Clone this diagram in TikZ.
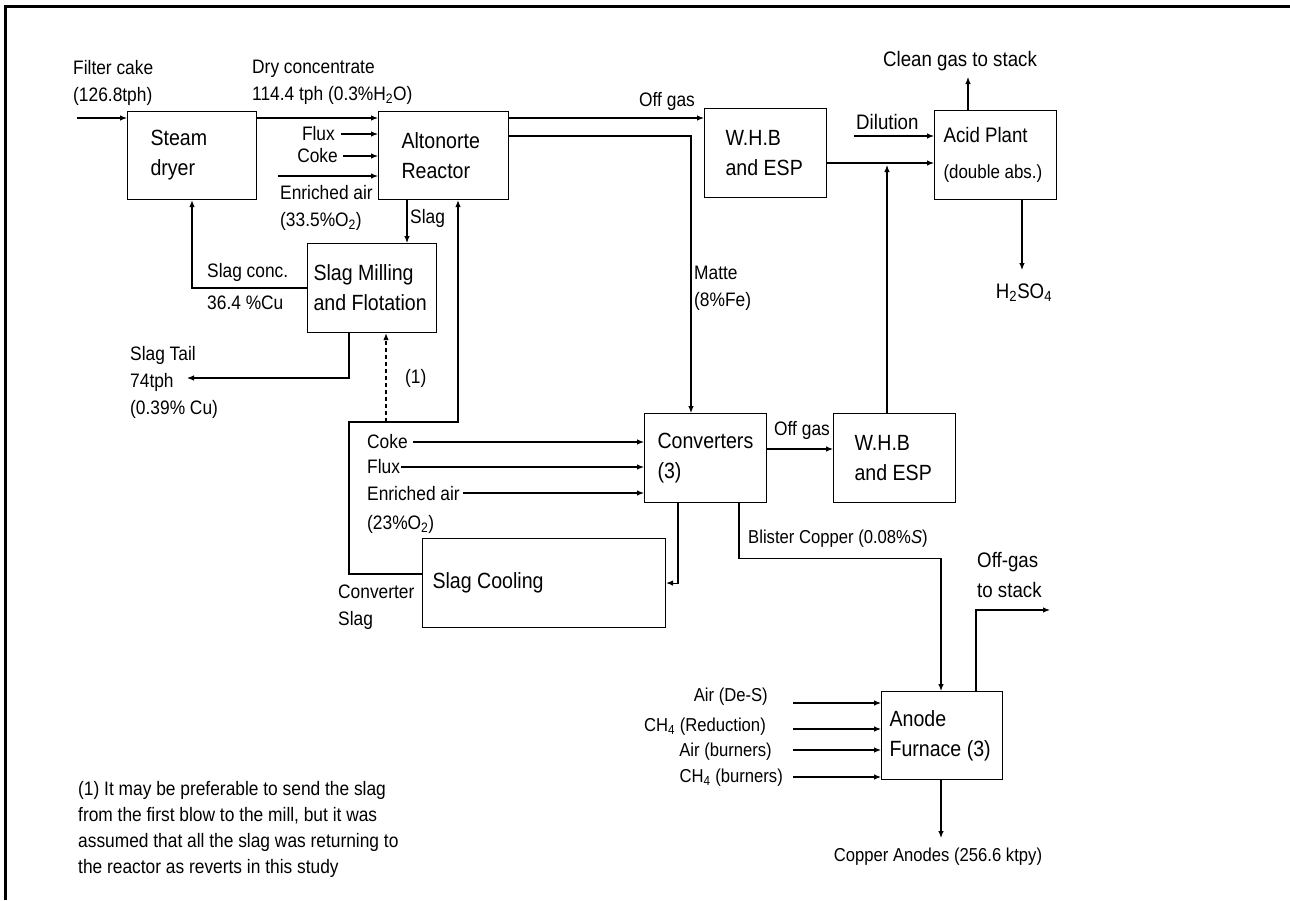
\documentclass[tikz,border=0pt]{standalone}
\usepackage{fontspec}
\setmainfont[FakeStretch=0.89]{Liberation Sans}
\usetikzlibrary{arrows.meta}

\begin{document}
\begin{tikzpicture}[x=1pt, y=-1pt,
	unit/.style={draw, line width=1.1pt, anchor=north west, align=flush left, font=\fontsize{22}{30}\selectfont},
	lbl/.style={inner sep=0pt, align=flush left, font=\fontsize{19.5}{27}\selectfont},
	biglbl/.style={lbl, font=\fontsize{21}{30}\selectfont},
	smalllbl/.style={lbl, font=\fontsize{18.7}{27}\selectfont},
	flow/.style={line width=1.1pt, -{Latex[length=7pt,width=5.5pt]}}]
	\useasboundingbox (0,0) rectangle (1290,900);
	\draw[line width=3pt] (5,900) -- (5,6.5) -- (1290,6.5);

	% process units
	\node[unit, minimum width=129pt, minimum height=88pt, text width=83pt, inner xsep=23pt] (dryer) at (127,111) {Steam\\dryer};
	\node[unit, minimum width=130pt, minimum height=88pt, text width=84pt, inner xsep=23pt] (reactor) at (378,111) {Altonorte\\Reactor};
	\node[unit, minimum width=129pt, minimum height=89pt, text width=117pt, inner xsep=6pt] (mill) at (307,243) {Slag Milling\\and Flotation};
	\node[unit, minimum width=122pt, minimum height=89pt, text width=80pt, inner xsep=21pt] (whb1) at (704,108) {W.H.B\\and ESP};
	\node[unit, minimum width=122pt, minimum height=89pt, text width=104pt, inner xsep=9pt, font=\fontsize{21}{30}\selectfont] (acid) at (934,110) {Acid Plant\\[6pt]{\fontsize{19}{30}\selectfont(double abs.)}};
	\node[unit, minimum width=122pt, minimum height=89pt, text width=96pt, inner xsep=13pt] (conv) at (644,413) {Converters\\(3)};
	\node[unit, minimum width=122pt, minimum height=89pt, text width=80pt, inner xsep=21pt] (whb2) at (833,413) {W.H.B\\and ESP};
	\node[unit, minimum width=243pt, minimum height=89pt, text width=223pt, inner xsep=10pt] (cool) at (422,538) {Slag Cooling};
	\node[unit, minimum width=121pt, minimum height=88pt, text width=105pt, inner xsep=8pt] (anode) at (881,691) {Anode\\Furnace (3)};

	% stream labels
	\node[lbl, anchor=north west] (feedlbl) at (73,60) {Filter cake\\(126.8tph)};
	\node[lbl, anchor=north west] (drylbl) at (252,60) {Dry concentrate\\114.4 tph (0.3\%H\textsubscript{2}O)};
	\node[lbl, anchor=east] (flux1) at (335,134) {Flux};
	\node[lbl, anchor=east] (coke1) at (338,156) {Coke};
	\node[lbl, anchor=north west] (air1) at (280,185) {Enriched air\\(33.5\%O\textsubscript{2})};
	\node[lbl, anchor=west] (slaglbl) at (410,218) {Slag};
	\node[lbl, anchor=west] (conclbl) at (207,272) {Slag conc.};
	\node[lbl, anchor=west] (cu) at (207,303) {36.4 \%Cu};
	\node[lbl, anchor=west] (off1) at (639,101) {Off gas};
	\node[lbl, anchor=north west] (matte) at (694,266) {Matte\\(8\%Fe)};
	\node[biglbl, anchor=west] (dillbl) at (856,122) {Dilution};
	\node[biglbl] (clean) at (960,61) {Clean gas to stack};
	\node[biglbl] (acidout) at (1024,293) {H\textsubscript{2}SO\textsubscript{4}};
	\node[lbl, anchor=north west] (tail) at (130,346) {Slag Tail\\74tph\\(0.39\% Cu)};
	\node[lbl, anchor=west] (note1) at (405,378) {(1)};
	\node[lbl, anchor=west] (coke2) at (367,442) {Coke};
	\node[lbl, anchor=west] (flux2) at (367,467) {Flux};
	\node[lbl, anchor=north west] (air2) at (367,486) {Enriched air\\[2pt](23\%O\textsubscript{2})};
	\node[lbl, anchor=north west] (cslag) at (338,585) {Converter\\Slag};
	\node[lbl, anchor=west] (off2) at (774,430) {Off gas};
	\node[smalllbl, anchor=west] (blister) at (748,539) {Blister Copper (0.08\%\textit{S})};
	\node[biglbl, anchor=north west] (stack) at (977,552) {Off-gas\\to stack};
	\node[smalllbl, anchor=east] (desl) at (768,697) {Air (De-S)};
	\node[smalllbl, anchor=east] (redl) at (766,727) {CH\textsubscript{4} (Reduction)};
	\node[smalllbl, anchor=east] (burl) at (772,752) {Air (burners)};
	\node[smalllbl, anchor=east] (chbl) at (783,778) {CH\textsubscript{4} (burners)};
	\node[smalllbl] (prod) at (938,857) {Copper Anodes (256.6 ktpy)};
	\node[lbl, anchor=north west, font=\fontsize{19.5}{26}\selectfont] (foot) at (78,781) {(1) It may be preferable to send the slag\\from the first blow to the mill, but it was\\assumed that all the slag was returning to\\the reactor as reverts in this study};

	% free ends
	\coordinate (feed) at (77,118);
	\coordinate (air1in) at (278,176);
	\coordinate (dil) at (854,136);
	\coordinate (cleanend) at (968,77);
	\coordinate (acidend) at (1022,270);
	\coordinate (tailend) at (187,378);
	\coordinate (loop) at (349,422);
	\coordinate (dash) at (386,422);
	\coordinate (air2in) at (463,493);
	\coordinate (stackend) at (1050,610);
	\coordinate (prodend) at (941,838);

	% smelter streams
	\draw[flow] (feed) -- (feed -| dryer.west);
	\draw[flow] ([yshift=-7pt]dryer.north east) -- ([yshift=-7pt]reactor.north west);
	\draw[flow] ([xshift=6pt]flux1.east) -- (flux1.east -| reactor.west);
	\draw[flow] ([xshift=5pt]coke1.east) -- (coke1.east -| reactor.west);
	\draw[flow] (air1in) -- (air1in -| reactor.west);
	\draw[flow] ([xshift=29pt]reactor.south west) -- ([xshift=29pt]reactor.south west |- mill.north);
	\draw[flow] ([yshift=-45pt]mill.north west) -| ([xshift=65pt]dryer.south west);
	\draw[flow] ([xshift=42pt]mill.south west) |- (tailend);
	\draw[flow, dash pattern=on 4pt off 3pt] (dash) -- (dash |- mill.south);
	\draw[flow] ([yshift=-36pt]cool.north west) -| (loop) -| ([xshift=80pt]reactor.south west);

	% gas line
	\draw[flow] ([yshift=-7pt]reactor.north east) -- ([yshift=-7pt]reactor.north east -| whb1.west);
	\coordinate (w1out) at ([yshift=-55pt]whb1.north east);
	\draw[flow] (w1out) -- (w1out -| acid.west);
	\draw[flow] (dil) -- (dil -| acid.west);
	\draw[flow, shorten >=2pt] ([xshift=54pt]whb2.north west) -- ([xshift=54pt]whb2.north west |- w1out);
	\draw[flow] (cleanend |- acid.north) -- (cleanend);
	\draw[flow] (acidend |- acid.south) -- (acidend);

	% converters
	\draw[flow] ([yshift=-25pt]reactor.north east) -| ([xshift=47pt]conv.north west);
	\draw[flow] ([xshift=5pt]coke2.east) -- (coke2.east -| conv.west);
	\draw[flow] ([xshift=1pt]flux2.east) -- (flux2.east -| conv.west);
	\draw[flow] (air2in) -- (air2in -| conv.west);
	\draw[flow] ([yshift=-36pt]conv.north east) -- ([yshift=-36pt]conv.north east -| whb2.west);
	\draw[flow] ([xshift=34pt]conv.south west) |- (cool.east);
	\draw[flow] ([xshift=95pt]conv.south west) -- ++(0,55) -| ([xshift=60pt]anode.north west);

	% anode furnace
	\foreach \n/\y in {desl/703, redl/729, burl/750, chbl/777}
		\draw[flow] (793,\y) -- (anode.west |- 0,\y);
	\draw[flow] ([xshift=95pt]anode.north west) |- (stackend);
	\draw[flow] (prodend |- anode.south) -- (prodend);
\end{tikzpicture}
\end{document}
